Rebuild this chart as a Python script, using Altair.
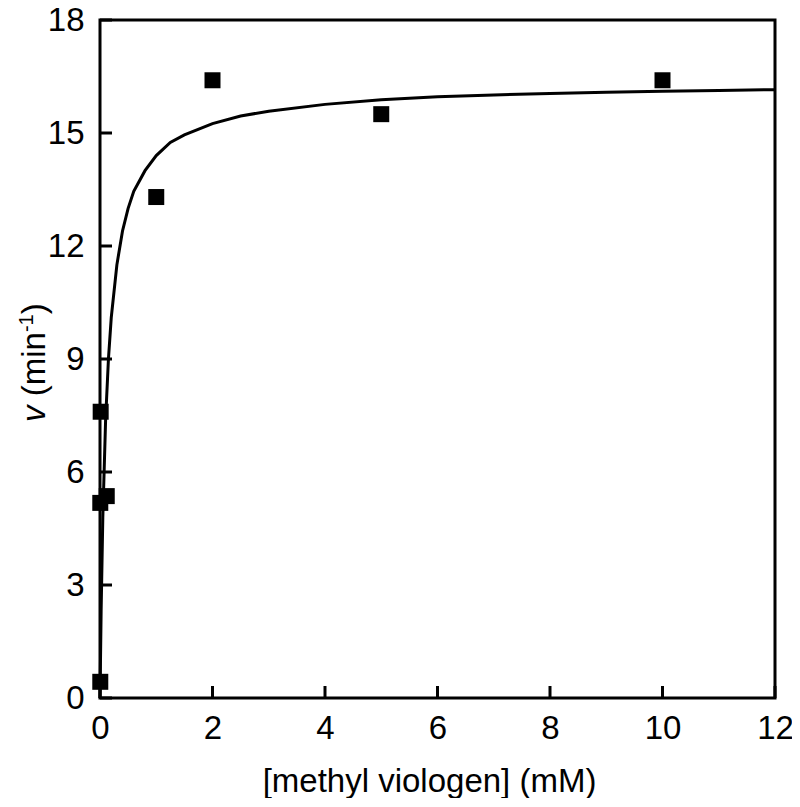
import altair as alt
import pandas as pd

# measured data points
conc = [0.005, 0.005, 0.012, 0.12, 1.0, 2.0, 5.0, 10.0]
rate = [0.43, 5.18, 7.6, 5.36, 13.3, 16.4, 15.5, 16.4]

# fitted curve
curve_x = [0, 0.02, 0.05, 0.1, 0.15, 0.2, 0.3, 0.4, 0.5, 0.6, 0.8, 1.0, 1.25, 1.5,
           2, 2.5, 3, 4, 5, 6, 7, 8, 9, 10, 11, 12]
curve_y = [0, 2.3, 4.8, 7.4, 9.0, 10.1, 11.5, 12.4, 13.0, 13.45, 14.0, 14.4, 14.75, 14.95,
           15.25, 15.45, 15.58, 15.76, 15.88, 15.96, 16.01, 16.05, 16.08, 16.11, 16.13, 16.15]

x_ticks = [0, 2, 4, 6, 8, 10, 12]
y_ticks = [0, 3, 6, 9, 12, 15, 18]

W, H = 675, 678
FONT = "Liberation Sans"

pts = pd.DataFrame({"x": conc, "y": rate})
crv = pd.DataFrame({"x": curve_x, "y": curve_y})

xs = alt.Scale(domain=[0, 12], nice=False)
ys = alt.Scale(domain=[0, 18], nice=False)

x_axis = alt.Axis(values=x_ticks, format="d", ticks=False, domain=False, grid=False,
                  labelFontSize=33, labelFont=FONT, labelColor="black",
                  labelPadding=14, labelFlush=False,
                  title="[methyl viologen] (mM)", titleFont=FONT,
                  titleFontSize=33, titleFontWeight="normal", titleColor="black",
                  titleBaseline="alphabetic", titleY=93, titleX=329,
                  titleAlign="center")
y_axis = alt.Axis(values=y_ticks, format="d", ticks=False, domain=False, grid=False,
                  labelFontSize=33, labelFont=FONT, labelColor="black",
                  labelPadding=16, labelFlush=False, title=None)

base_x = alt.X("x:Q", scale=xs, axis=x_axis)
base_y = alt.Y("y:Q", scale=ys, axis=y_axis)

line = alt.Chart(crv).mark_line(color="black", strokeWidth=3).encode(x=base_x, y=base_y)
points = alt.Chart(pts).mark_point(shape="square", filled=True, size=256, color="black",
                                   opacity=1).encode(x=base_x, y=base_y)

xt = pd.DataFrame({"x": x_ticks})
yt = pd.DataFrame({"y": y_ticks})
xtick_marks = alt.Chart(xt).mark_tick(color="black", thickness=3, size=12, orient="vertical",
                                      opacity=1).encode(
    x=base_x, y=alt.value(H - 6))
ytick_marks = alt.Chart(yt).mark_tick(color="black", thickness=3, size=12, orient="horizontal",
                                      opacity=1).encode(
    y=base_y, x=alt.value(6))

one = pd.DataFrame({"a": [0]})
def ytitle_piece(text, ypix, xpix, size, style="normal"):
    return alt.Chart(one).mark_text(text=text, angle=270, align="left", baseline="alphabetic",
                                    font=FONT, fontSize=size, fontStyle=style,
                                    color="black").encode(x=alt.value(xpix), y=alt.value(ypix))

t1 = ytitle_piece("v", 402, -55, 33, "italic")
t2 = ytitle_piece("(min", 376.3, -55, 33)
t3 = ytitle_piece("-1", 312.1, -67, 20)
t4 = ytitle_piece(")", 294.3, -55, 33)

chart = alt.layer(line, points, xtick_marks, ytick_marks, t1, t2, t3, t4).properties(
    width=W, height=H,
    autosize=alt.AutoSizeParams(type="none"),
    padding={"left": 92, "top": 12, "right": 17, "bottom": 100},
).configure(
    background="white",
    view=alt.ViewConfig(stroke="black", strokeWidth=3),
)

chart.save("out.html", embed_options={"renderer": "svg", "actions": False})
